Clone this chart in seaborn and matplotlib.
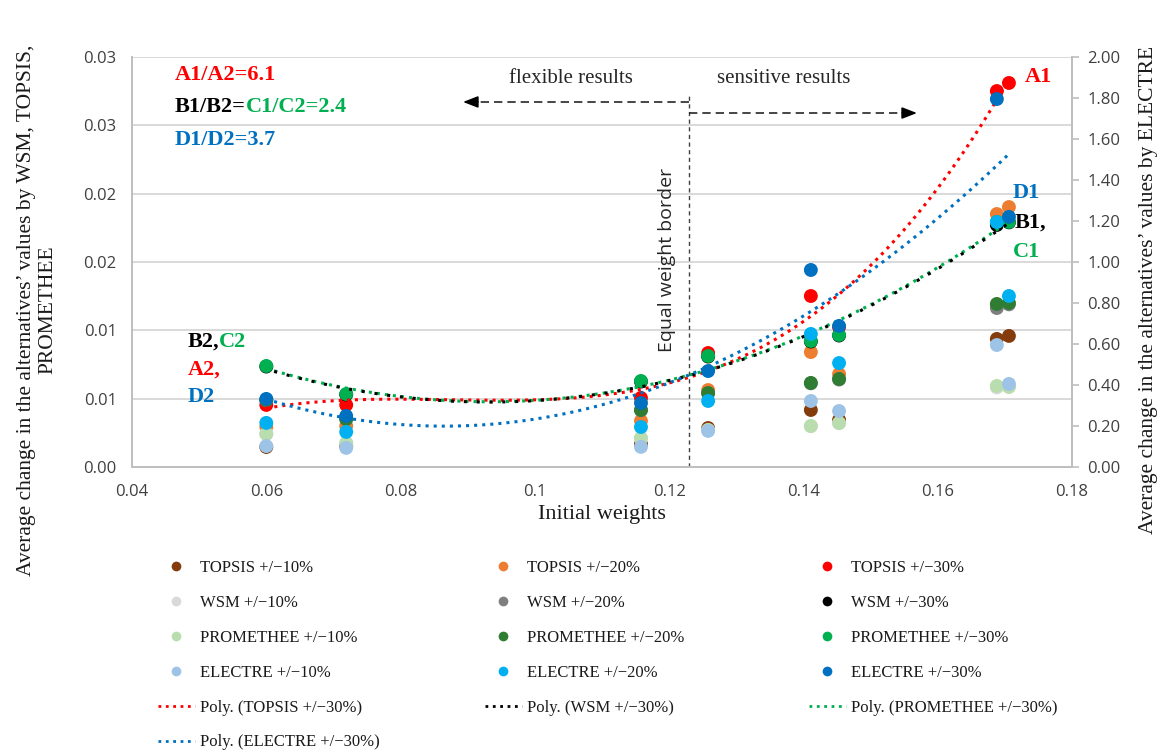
import numpy as np
import pandas as pd
import matplotlib.pyplot as plt
import seaborn as sns
from matplotlib.lines import Line2D

sns.set_style('white')
plt.rcParams['font.family'] = ['Liberation Serif', 'DejaVu Serif']

# criterion weights (x) and average change of the alternatives' values
weights = [0.06, 0.0719, 0.1158, 0.1258, 0.1411, 0.1453, 0.1688, 0.1706]

topsis_10 = [0.00146, 0.00154, 0.00168, 0.00285, 0.00417, 0.00344, 0.00937, 0.00959]
topsis_20 = [0.00293, 0.00300, 0.00337, 0.00563, 0.00841, 0.00680, 0.01851, 0.01902]
topsis_30 = [0.00454, 0.00454, 0.00505, 0.00834, 0.01251, 0.01024, 0.02751, 0.02810]
wsm_10 = [0.00243, 0.00175, 0.00208, 0.00269, 0.00298, 0.00320, 0.00582, 0.00590]
wsm_20 = [0.00488, 0.00350, 0.00415, 0.00539, 0.00612, 0.00640, 0.01163, 0.01190]
wsm_30 = [0.00735, 0.00530, 0.00625, 0.00808, 0.00918, 0.00962, 0.01771, 0.01790]
prom_10 = [0.00241, 0.00176, 0.00212, 0.00271, 0.00300, 0.00322, 0.00593, 0.00585]
prom_20 = [0.00490, 0.00351, 0.00417, 0.00541, 0.00615, 0.00644, 0.01193, 0.01200]
prom_30 = [0.00739, 0.00534, 0.00629, 0.00812, 0.00922, 0.00966, 0.01793, 0.01793]
# ELECTRE is on the secondary axis
electre_10 = [0.102, 0.093, 0.098, 0.176, 0.322, 0.273, 0.595, 0.405]
electre_20 = [0.215, 0.171, 0.195, 0.322, 0.649, 0.507, 1.195, 0.834]
electre_30 = [0.332, 0.249, 0.312, 0.468, 0.961, 0.688, 1.795, 1.220]

left_names = ['TOPSIS +/\u221210%', 'TOPSIS +/\u221220%', 'TOPSIS +/\u221230%',
              'WSM +/\u221210%', 'WSM +/\u221220%', 'WSM +/\u221230%',
              'PROMETHEE +/\u221210%', 'PROMETHEE +/\u221220%', 'PROMETHEE +/\u221230%']
right_names = ['ELECTRE +/\u221210%', 'ELECTRE +/\u221220%', 'ELECTRE +/\u221230%']
left_colors = ['#843C0C', '#ED7D31', '#FF0000', '#D9D9D9', '#7F7F7F', '#000000',
               '#B9DDAE', '#2E7D32', '#00B050']
right_colors = ['#9DC3E6', '#00B0F0', '#0070C0']

x_ticks = [0.04, 0.06, 0.08, 0.1, 0.12, 0.14, 0.16, 0.18]
x_tick_labels = ['0.04', '0.06', '0.08', '0.1', '0.12', '0.14', '0.16', '0.18']
y_ticks = [0.0, 0.005, 0.01, 0.015, 0.02, 0.025, 0.03]
y_tick_labels = ['0.00', '0.01', '0.01', '0.02', '0.02', '0.03', '0.03']
y2_ticks = [0.0, 0.2, 0.4, 0.6, 0.8, 1.0, 1.2, 1.4, 1.6, 1.8, 2.0]
y2_tick_labels = ['0.00', '0.20', '0.40', '0.60', '0.80', '1.00', '1.20', '1.40', '1.60', '1.80', '2.00']
border_weight = 0.123

left_df = pd.DataFrame({
    'weight': weights * 9,
    'value': topsis_10 + topsis_20 + topsis_30 + wsm_10 + wsm_20 + wsm_30 + prom_10 + prom_20 + prom_30,
    'series': np.repeat(left_names, len(weights)),
})
right_df = pd.DataFrame({
    'weight': weights * 3,
    'value': electre_10 + electre_20 + electre_30,
    'series': np.repeat(right_names, len(weights)),
})

fig = plt.figure(figsize=(11.63, 7.51), dpi=100)
ax = fig.add_axes([0.1135, 0.3782, 0.8083, 0.5459])
ax2 = ax.twinx()

sns.scatterplot(data=left_df, x='weight', y='value', hue='series', hue_order=left_names,
                palette=left_colors, s=100, linewidth=0, legend=False, ax=ax, zorder=3)
sns.scatterplot(data=right_df, x='weight', y='value', hue='series', hue_order=right_names,
                palette=right_colors, s=100, linewidth=0, legend=False, ax=ax2, zorder=3)

trend_kws = dict(scatter=False, ci=None, truncate=True)
sns.regplot(x=weights, y=topsis_30, ax=ax, order=3,
            line_kws=dict(color='#FF0000', ls=':', lw=2.2, zorder=4), **trend_kws)
sns.regplot(x=weights, y=prom_30, ax=ax, order=2,
            line_kws=dict(color='#00B050', ls=':', lw=2.2, zorder=4), **trend_kws)
sns.regplot(x=weights, y=wsm_30, ax=ax, order=2,
            line_kws=dict(color='#000000', ls=(1.5, (1, 3.2)), lw=2.2, zorder=4), **trend_kws)
sns.regplot(x=weights, y=electre_30, ax=ax2, order=2,
            line_kws=dict(color='#0070C0', ls=':', lw=2.2, zorder=2), **trend_kws)

ax.set_xlim(0.04, 0.18)
ax.set_ylim(0, 0.03)
ax2.set_ylim(0, 2.0)
ax.set_xticks(x_ticks, labels=x_tick_labels, fontfamily='Open Sans', fontsize=12, color='#404040')
ax.set_yticks(y_ticks, labels=y_tick_labels, fontfamily='Open Sans', fontsize=12, color='#404040')
ax2.set_yticks(y2_ticks, labels=y2_tick_labels, fontfamily='Open Sans', fontsize=12, color='#404040')
ax.tick_params(axis='x', length=0, pad=12)
ax.tick_params(axis='y', length=0, pad=11)
ax2.tick_params(axis='y', length=5, width=1.2, color='#BFBFBF', pad=6)
ax.set_xlabel('Initial weights', fontsize=16, labelpad=4, color='#1a1a1a')
ax.set_ylabel('')
ax2.set_ylabel('')

ax.yaxis.grid(True, color='#D9D9D9', lw=1.4)
ax.set_axisbelow(True)
for a in (ax, ax2):
    a.spines['top'].set_visible(False)
    for s in ('left', 'right', 'bottom'):
        a.spines[s].set_color('#BFBFBF')
        a.spines[s].set_linewidth(1.4)

fig.text(37 / 1163, 1 - 310 / 751,
         'Average change in the alternatives\u2019 values by WSM, TOPSIS,\nPROMETHEE',
         rotation=90, ha='center', va='center', multialignment='center', fontsize=15.5,
         linespacing=1.15, color='#1a1a1a')
fig.text(1149 / 1163, 1 - 290 / 751,
         'Average change in the alternatives\u2019 values by ELECTRE',
         rotation=90, ha='center', va='center', fontsize=15.5, color='#1a1a1a')

# equal weight border and arrows
ax.axvline(border_weight, ymin=0, ymax=0.91, color='#404040', ls=(0, (3, 2.5)), lw=1)
ax.text(0.1197, 0.01515, 'Equal weight border', rotation=90, ha='center', va='center',
        fontfamily='Open Sans', fontsize=14, color='#262626')
ax.plot([border_weight, 0.0905], [0.02671, 0.02671], color='#262626', ls=(0, (5, 3)), lw=1.2)
ax.annotate('', xy=(0.0893, 0.02671), xytext=(0.0915, 0.02671),
            arrowprops=dict(arrowstyle='-|>,head_length=0.9,head_width=0.35', color='#000000', lw=1.2,
                            shrinkA=0, shrinkB=0))
ax.plot([border_weight, 0.1557], [0.0259, 0.0259], color='#262626', ls=(0, (5, 3)), lw=1.2)
ax.annotate('', xy=(0.1569, 0.0259), xytext=(0.1547, 0.0259),
            arrowprops=dict(arrowstyle='-|>,head_length=0.9,head_width=0.35', color='#000000', lw=1.2,
                            shrinkA=0, shrinkB=0))
ax.text(0.1054, 0.02846, 'flexible results', ha='center', va='center', fontsize=15, color='#262626')
ax.text(0.1370, 0.02846, 'sensitive results', ha='center', va='center', fontsize=15, color='#262626')

# ratio notes
bold = dict(fontsize=16, fontweight='bold', va='center', ha='left')
ax.text(0.0464, 0.02868, 'A1/A2=6.1', color='#FF0000', **bold)
t = ax.text(0.0464, 0.02634, 'B1/B2=', color='#000000', **bold)
ax.annotate('C1/C2=2.4', xy=(1, 0), xycoords=t, va='bottom', ha='left', color='#00B050',
            fontsize=16, fontweight='bold')
ax.text(0.0464, 0.02393, 'D1/D2=3.7', color='#0070C0', **bold)

# point labels
ax.text(0.1730, 0.02854, 'A1', color='#FF0000', **bold)
ax.text(0.1712, 0.02005, 'D1', color='#0070C0', **bold)
ax.text(0.1715, 0.01785, 'B1,', color='#000000', **bold)
ax.text(0.1712, 0.01573, 'C1', color='#00B050', **bold)
t = ax.text(0.0483, 0.00915, 'B2,', color='#000000', **bold)
ax.annotate('C2', xy=(1, 0), xycoords=t, va='bottom', ha='left', color='#00B050',
            fontsize=16, fontweight='bold')
ax.text(0.0483, 0.0071, 'A2,', color='#FF0000', **bold)
ax.text(0.0483, 0.00512, 'D2', color='#0070C0', **bold)

# legend, one block per column
all_names = left_names + right_names
all_colors = left_colors + right_colors
dots = [Line2D([], [], marker='o', ls='none', markersize=7, markeredgewidth=0, color=c) for c in all_colors]
poly_names = ['Poly. (TOPSIS +/\u221230%)', 'Poly. (WSM +/\u221230%)',
              'Poly. (PROMETHEE +/\u221230%)', 'Poly. (ELECTRE +/\u221230%)']
poly_colors = ['#FF0000', '#000000', '#00B050', '#0070C0']
polys = [Line2D([], [], ls=':', lw=2, color=c) for c in poly_colors]

columns = [
    ([dots[0], dots[3], dots[6], dots[9], polys[0], polys[3]],
     [all_names[0], all_names[3], all_names[6], all_names[9], poly_names[0], poly_names[3]]),
    ([dots[1], dots[4], dots[7], dots[10], polys[1]],
     [all_names[1], all_names[4], all_names[7], all_names[10], poly_names[1]]),
    ([dots[2], dots[5], dots[8], dots[11], polys[2]],
     [all_names[2], all_names[5], all_names[8], all_names[11], poly_names[2]]),
]
col_left = [158, 485, 809]
for (handles, labels), x0 in zip(columns, col_left):
    fig.legend(handles, labels, loc='upper left', bbox_to_anchor=(x0 / 1163, 0.254),
               frameon=False, borderpad=0, borderaxespad=0, handlelength=2.2, handletextpad=0.3,
               labelspacing=1.13, fontsize=12, labelcolor='#1a1a1a')

fig.savefig('out.png', dpi=100)
